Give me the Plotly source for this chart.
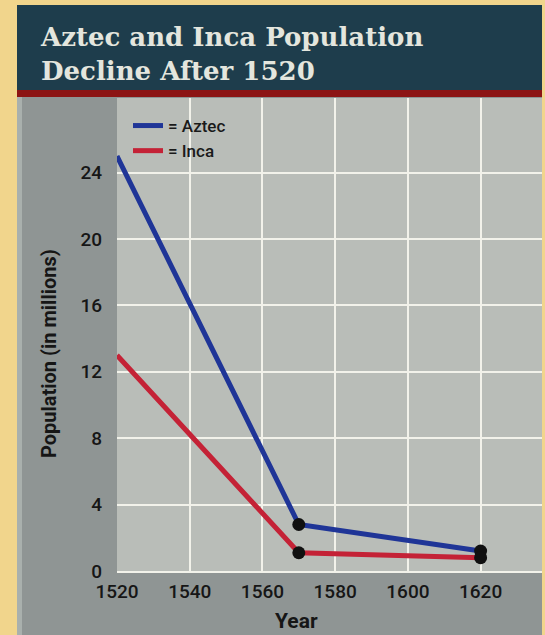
import plotly.graph_objects as go

years = [1520, 1570, 1620]
aztec = [25, 2.8, 1.2]
inca = [13, 1.1, 0.8]
x_ticks = [1520, 1540, 1560, 1580, 1600, 1620]
y_ticks = [0, 4, 8, 12, 16, 20, 24]

W, H = 545, 635
L, R, T, B = 117, 542, 98, 571  # plot area in pixels


def px(xp):
    return (xp - L) / (R - L)


def py(yp):
    return (B - yp) / (B - T)


fig = go.Figure()
fig.add_trace(go.Scatter(x=years, y=aztec, mode="lines", name="= Aztec",
                         line=dict(color="#1f3597", width=5)))
fig.add_trace(go.Scatter(x=years, y=inca, mode="lines", name="= Inca",
                         line=dict(color="#c42236", width=5)))
fig.add_trace(go.Scatter(x=years[1:], y=aztec[1:], mode="markers", showlegend=False,
                         marker=dict(color="#101010", size=13)))
fig.add_trace(go.Scatter(x=years[1:], y=inca[1:], mode="markers", showlegend=False,
                         marker=dict(color="#101010", size=13)))

shapes = [
    dict(type="rect", xref="paper", yref="paper", x0=px(17), x1=px(542), y0=py(635), y1=py(5),
         fillcolor="#8f9594", line=dict(width=0), layer="below"),
    dict(type="rect", xref="paper", yref="paper", x0=px(17), x1=px(22), y0=py(635), y1=py(97),
         fillcolor="#a9b0ad", line=dict(width=0), layer="below"),
    dict(type="rect", xref="paper", yref="paper", x0=0, x1=1, y0=0, y1=1,
         fillcolor="#b9bdb8", line=dict(width=0), layer="below"),
    dict(type="rect", xref="paper", yref="paper", x0=px(17), x1=px(542), y0=py(90), y1=py(5),
         fillcolor="#1e3d4c", line=dict(width=0), layer="below"),
    dict(type="rect", xref="paper", yref="paper", x0=px(17), x1=px(542), y0=py(97), y1=py(90),
         fillcolor="#8c1414", line=dict(width=0), layer="below"),
]

FAM = "Roboto, Liberation Sans, sans-serif"
tick_font = dict(family=FAM, size=19, color="#161616", weight=500)

fig.update_layout(
    width=W, height=H,
    margin=dict(l=L, r=W - R, t=T, b=H - B),
    paper_bgcolor="#f1d58c",
    plot_bgcolor="#b9bdb8",
    shapes=shapes,
    showlegend=True,
    legend=dict(x=px(128), y=py(108), xanchor="left", yanchor="top",
                bgcolor="rgba(0,0,0,0)", font=dict(family=FAM, size=17, color="#1a1a1a", weight=500),
                itemwidth=30, tracegroupgap=0),
    xaxis=dict(range=[1520, 1520 + (R - L) / 3.636], tickvals=x_ticks,
               showgrid=True, gridcolor="#f2f2ea", gridwidth=2,
               zeroline=False, showline=True, linecolor="#f2f2ea", linewidth=2,
               tickfont=tick_font, ticklabelstandoff=2),
    yaxis=dict(range=[0, (B - T) / 16.6], tickvals=y_ticks,
               showgrid=True, gridcolor="#f2f2ea", gridwidth=2,
               zeroline=False, showline=False,
               tickfont=tick_font, ticklabelstandoff=14),
    annotations=[
        dict(text="<b>Aztec and Inca Population<br>Decline After 1520</b>", xref="paper", yref="paper",
             x=px(38), y=py(54), xanchor="left", yanchor="middle", align="left", showarrow=False,
             font=dict(family="DejaVu Serif, Liberation Serif, serif", size=26, color="#e4e6de")),
        dict(text="<b>Population (in millions)</b>", xref="paper", yref="paper",
             x=px(49), y=py(354), xanchor="center", yanchor="middle", textangle=-90, showarrow=False,
             font=dict(family=FAM, size=20, color="#161616")),
        dict(text="<b>Year</b>", xref="paper", yref="paper",
             x=px(296), y=py(621), xanchor="center", yanchor="middle", showarrow=False,
             font=dict(family=FAM, size=21, color="#161616")),
    ],
)

fig.write_html("out.html", config={"displayModeBar": False},
               post_script="document.body.style.margin='0';")
